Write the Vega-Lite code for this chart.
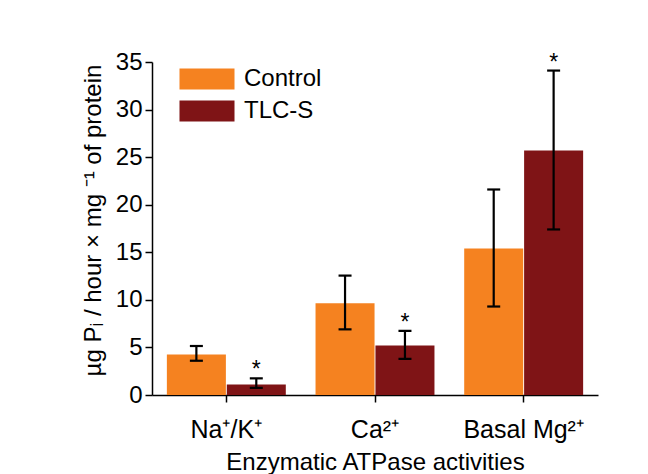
{
  "$schema": "https://vega.github.io/schema/vega-lite/v6.json",
  "width": 446,
  "height": 333,
  "autosize": "none",
  "padding": {"left": 152, "top": 62, "right": 50, "bottom": 79},
  "background": "white",
  "config": {
    "font": "Liberation Sans",
    "view": {"stroke": null},
    "axis": {
      "domainColor": "black",
      "tickColor": "black",
      "labelColor": "black",
      "titleColor": "black",
      "titleFontWeight": "normal",
      "domainWidth": 1.5,
      "tickWidth": 1.5,
      "grid": false
    }
  },
  "data": {
    "values": [
      {"activity": "Na⁺/K⁺", "group": "Control", "value": 4.25, "lo": 3.6, "hi": 5.15, "sig": false},
      {"activity": "Na⁺/K⁺", "group": "TLC-S", "value": 1.1, "lo": 0.75, "hi": 1.75, "sig": true},
      {"activity": "Ca²⁺", "group": "Control", "value": 9.65, "lo": 6.9, "hi": 12.55, "sig": false},
      {"activity": "Ca²⁺", "group": "TLC-S", "value": 5.2, "lo": 3.8, "hi": 6.75, "sig": true},
      {"activity": "Basal Mg²⁺", "group": "Control", "value": 15.4, "lo": 9.3, "hi": 21.6, "sig": false},
      {"activity": "Basal Mg²⁺", "group": "TLC-S", "value": 25.7, "lo": 17.4, "hi": 34.1, "sig": true}
    ]
  },
  "encoding": {
    "x": {
      "field": "activity",
      "type": "nominal",
      "sort": ["Na⁺/K⁺", "Ca²⁺", "Basal Mg²⁺"],
      "scale": {"paddingInner": 0.2, "paddingOuter": 0.1},
      "axis": {
        "title": "Enzymatic ATPase activities",
        "titleFontSize": 24,
        "titlePadding": 8,
        "labelFontSize": 25,
        "labelPadding": 15,
        "labelAngle": 0,
        "tickSize": 7
      }
    },
    "xOffset": {"field": "group", "type": "nominal", "sort": ["Control", "TLC-S"], "scale": {"paddingInner": 0.015}}
  },
  "layer": [
    {
      "mark": {"type": "bar"},
      "encoding": {
        "y": {
          "field": "value",
          "type": "quantitative",
          "scale": {"domain": [0, 35], "nice": false},
          "axis": {
            "title": "µg Pᵢ / hour × mg ⁻¹ of protein",
            "titleFontSize": 24,
            "titlePadding": 10,
            "titleY": 158,
            "labelFontSize": 24,
            "labelPadding": 3,
            "values": [0, 2.5, 5, 7.5, 10, 12.5, 15, 17.5, 20, 22.5, 25, 27.5, 30, 32.5, 35],
            "labelExpr": "datum.value % 5 === 0 ? datum.label : ''",
            "tickSize": {"condition": {"test": "datum.value % 5 === 0", "value": 7}, "value": 4}
          }
        },
        "color": {
          "field": "group",
          "type": "nominal",
          "scale": {"domain": ["Control", "TLC-S"], "range": ["#F58220", "#7F1416"]},
          "legend": {
            "orient": "none",
            "legendX": 43,
            "legendY": 5,
            "title": null,
            "padding": 0,
            "symbolType": "M-2.62,-1H2.62V1H-2.62Z",
            "symbolSize": 441,
            "symbolStrokeWidth": 0,
            "symbolOpacity": 1,
            "labelFontSize": 24,
            "labelOffset": 25,
            "rowPadding": 8
          }
        }
      }
    },
    {
      "mark": {"type": "rule", "strokeWidth": 2.2, "color": "black"},
      "encoding": {
        "y": {"field": "lo", "type": "quantitative"},
        "y2": {"field": "hi"}
      }
    },
    {
      "mark": {"type": "tick", "thickness": 2.2, "size": 13, "color": "black", "opacity": 1},
      "encoding": {"y": {"field": "lo", "type": "quantitative"}}
    },
    {
      "mark": {"type": "tick", "thickness": 2.2, "size": 13, "color": "black", "opacity": 1},
      "encoding": {"y": {"field": "hi", "type": "quantitative"}}
    },
    {
      "transform": [{"filter": "datum.sig"}],
      "mark": {"type": "text", "text": "*", "fontSize": 23, "baseline": "alphabetic", "dy": -1, "color": "black"},
      "encoding": {"y": {"field": "hi", "type": "quantitative"}}
    }
  ]
}
